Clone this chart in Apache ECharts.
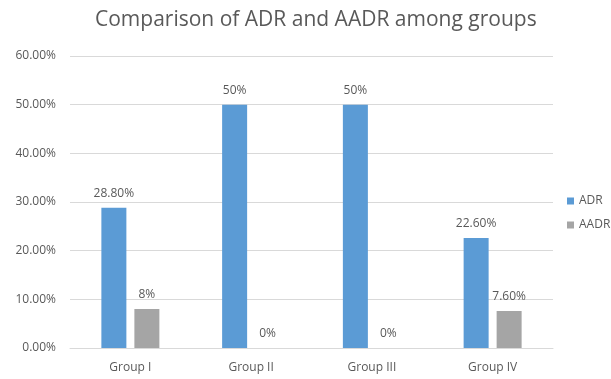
<!DOCTYPE html>
<html><head><meta charset="utf-8">
<script src="https://cdn.jsdelivr.net/npm/echarts@6/dist/echarts.min.js"></script>
<style>html,body{margin:0;padding:0;background:#fff}#c{width:611px;height:379px}</style>
</head><body><div id="c"></div>
<script>
const categories = ["Group I", "Group II", "Group III", "Group IV"];
const adrValues = [28.8, 50, 50, 22.6];
const aadrValues = [8, 0, 0, 7.6];
const adrLabels = ["28.80%", "50%", "50%", "22.60%"];
const aadrLabels = ["8%", "0%", "0%", "7.60%"];
const yTicks = [0, 10, 20, 30, 40, 50, 60];

const font = "'Open Sans', 'Noto Sans', sans-serif";
const chart = echarts.init(document.getElementById('c'));
const lbl = arr => ({show: true, position: 'top', distance: 8, color: '#595959', fontSize: 12, fontFamily: font,
  formatter: p => arr[p.dataIndex]});
chart.setOption({
  animation: false,
  title: {text: 'Comparison of ADR and AADR among groups', left: 90, top: 5,
    textStyle: {color: '#595959', fontSize: 21, fontWeight: 'normal', fontFamily: font}},
  legend: {orient: 'vertical', left: 562, top: 190, itemWidth: 7, itemHeight: 7, itemGap: 12,
    icon: 'rect', textStyle: {color: '#595959', fontSize: 12, fontFamily: font}},
  grid: {left: 70, right: 58, top: 56, bottom: 31},
  xAxis: {type: 'category', data: categories,
    axisLine: {lineStyle: {color: '#d9d9d9'}}, axisTick: {show: false},
    axisLabel: {color: '#595959', fontSize: 12, fontFamily: font, margin: 14}},
  yAxis: {type: 'value', min: yTicks[0], max: yTicks[yTicks.length - 1], interval: 10,
    axisLabel: {color: '#595959', fontSize: 12, fontFamily: font, margin: 14, formatter: v => v.toFixed(2) + '%'},
    splitLine: {lineStyle: {color: '#d9d9d9'}}, axisLine: {show: false}, axisTick: {show: false}},
  series: [
    {name: 'ADR', type: 'bar', data: adrValues, barWidth: 25, barGap: '32%',
     itemStyle: {color: '#5b9bd5'}, label: lbl(adrLabels)},
    {name: 'AADR', type: 'bar', data: aadrValues, barWidth: 25,
     itemStyle: {color: '#a5a5a5'}, label: lbl(aadrLabels)}
  ]
});
</script></body></html>
